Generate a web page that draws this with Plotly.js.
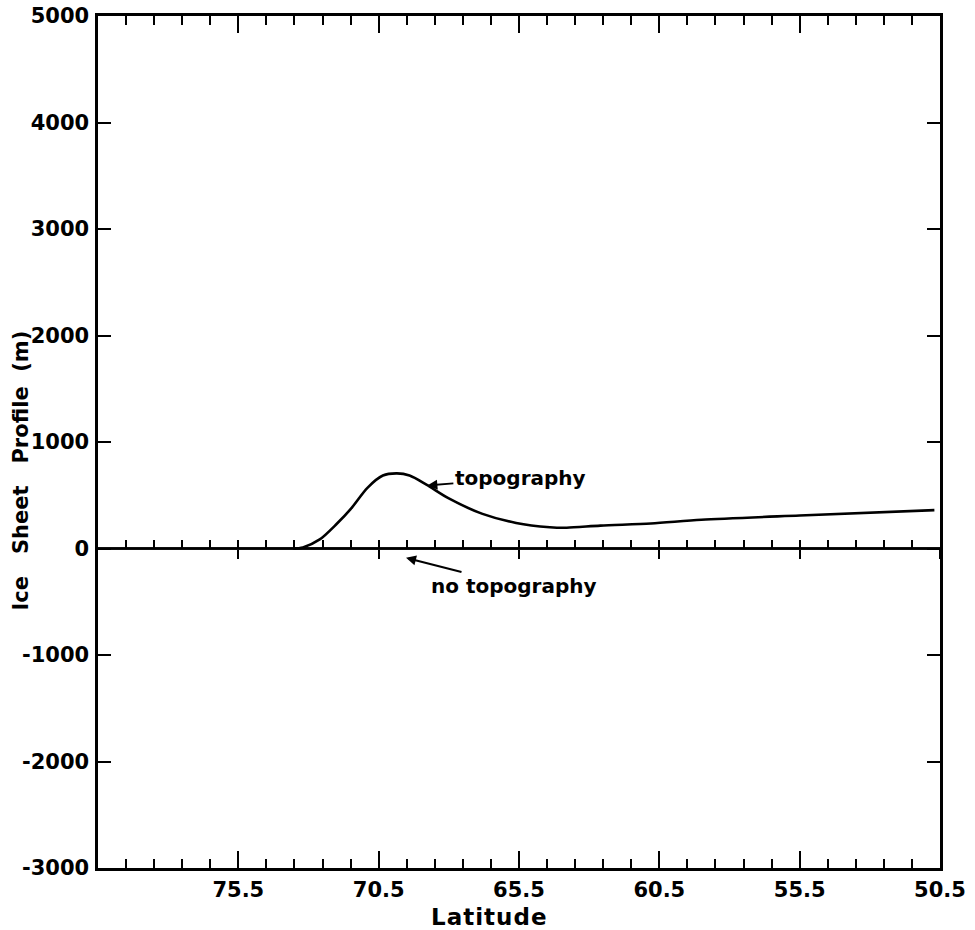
<!DOCTYPE html>
<html>
<head>
<meta charset="utf-8">
<script src="https://cdn.plot.ly/plotly-3.0.1.min.js"></script>
<style>
html,body{margin:0;padding:0;background:#fff;}
g.annotation[data-index="1"] text{letter-spacing:1px;}
</style>
</head>
<body>
<div id="chart" style="width:975px;height:930px;"></div>
<script>
// Data
const topoLat = [73.55, 73.2, 72.6, 72.0, 71.5, 70.9, 70.35, 69.85, 69.4, 68.8, 68.0, 66.8, 65.6, 64.4, 63.8, 62.6, 60.8, 59.0, 55.5, 50.7];
const topoElev = [0, 10, 85, 230, 370, 570, 685, 705, 685, 600, 470, 325, 240, 200, 195, 215, 235, 270, 310, 360];
const flatLat = [80.5, 50.5];
const flatElev = [0, 0];
const xTickVals = [75.5, 70.5, 65.5, 60.5, 55.5, 50.5];
const xTickText = ['75.5', '70.5', '65.5', '60.5', '55.5', '50.5'];
const yTickVals = [-3000, -2000, -1000, 0, 1000, 2000, 3000, 4000, 5000];
const yTickText = ['-3000', '-2000', '-1000', '0', '1000', '2000', '3000', '4000', '5000'];
const xRange = [80.5, 50.5];
const yRange = [-3000, 5000];

const FONT = 'DejaVu Sans, sans-serif';
const tickFnt = {family: FONT, size: 21, color: '#000', weight: 'bold'};
const annFnt = {family: FONT, size: 20, color: '#000', weight: 'bold'};

const traces = [
  {x: topoLat, y: topoElev, type: 'scatter', mode: 'lines', name: 'topography',
   line: {color: '#000', width: 2.6, shape: 'spline', smoothing: 0.8}, xaxis: 'x', yaxis: 'y'},
  {x: flatLat, y: flatElev, type: 'scatter', mode: 'lines', name: 'no topography',
   line: {color: '#000', width: 2.6}, xaxis: 'x2', yaxis: 'y'},
  {x: flatLat, y: flatElev, type: 'scatter', mode: 'lines', xaxis: 'x3', yaxis: 'y', showlegend: false, hoverinfo: 'skip',
   line: {color: '#000', width: 2.6}}
];

const zeroPos = (0 - yRange[0]) / (yRange[1] - yRange[0]);

const layout = {
  width: 975, height: 930,
  margin: {l: 98, r: 35, t: 16, b: 62},
  paper_bgcolor: '#fff', plot_bgcolor: '#fff',
  showlegend: false,
  font: tickFnt,
  xaxis: {
    range: xRange, showgrid: false, zeroline: false,
    showline: true, linecolor: '#000', linewidth: 2.6, mirror: 'ticks',
    tickmode: 'array', tickvals: xTickVals, ticktext: xTickText,
    ticks: 'inside', ticklen: 17, tickwidth: 2, tickcolor: '#000',
    minor: {tickmode: 'linear', tick0: 50.5, dtick: 1, ticks: 'inside', ticklen: 9, tickwidth: 2, tickcolor: '#000'},
    tickfont: tickFnt, ticklabelstandoff: 1,
    title: {text: ''}
  },
  xaxis2: {
    range: xRange, overlaying: 'x', anchor: 'free', position: zeroPos, side: 'bottom',
    showgrid: false, zeroline: false, showline: false, showticklabels: false,
    tickmode: 'array', tickvals: xTickVals,
    ticks: 'inside', ticklen: 9, tickwidth: 2, tickcolor: '#000',
    minor: {tickmode: 'linear', tick0: 50.5, dtick: 1, ticks: 'inside', ticklen: 9, tickwidth: 2, tickcolor: '#000'}
  },
  xaxis3: {
    range: xRange, overlaying: 'x', anchor: 'free', position: zeroPos, side: 'bottom',
    showgrid: false, zeroline: false, showline: false, showticklabels: false,
    tickmode: 'array', tickvals: xTickVals,
    ticks: 'outside', ticklen: 9, tickwidth: 2, tickcolor: '#000'
  },
  yaxis: {
    range: yRange, showgrid: false, zeroline: false,
    showline: true, linecolor: '#000', linewidth: 2.6, mirror: 'ticks',
    tickmode: 'array', tickvals: yTickVals, ticktext: yTickText,
    ticks: 'inside', ticklen: 13, tickwidth: 2, tickcolor: '#000',
    tickfont: tickFnt, ticklabelstandoff: 2,
    title: {text: ''}
  },
  annotations: [
    {xref: 'paper', yref: 'paper', x: -0.092, y: 0.466, xanchor: 'center', yanchor: 'middle',
     text: 'Ice   Sheet   Profile  (m)', textangle: -90, showarrow: false,
     font: {family: FONT, size: 21, color: '#000', weight: 'bold'}},
    {xref: 'paper', yref: 'paper', x: 0.465, y: -0.0575, xanchor: 'center', yanchor: 'middle',
     text: 'Latitude', showarrow: false, font: {family: FONT, size: 23, color: '#000', weight: 'bold'}},
    {x: 68.8, y: 590, xref: 'x', yref: 'y', text: 'topography', showarrow: true,
     arrowhead: 2, arrowsize: 1, arrowwidth: 2, arrowcolor: '#000', ax: 94, ay: -8,
     standoff: 1, font: annFnt},
    {x: 69.56, y: -85, xref: 'x', yref: 'y', text: 'no topography', showarrow: true,
     arrowhead: 2, arrowsize: 1, arrowwidth: 2, arrowcolor: '#000', ax: 109, ay: 28,
     standoff: 1, font: annFnt}
  ]
};

Plotly.newPlot('chart', traces, layout, {displayModeBar: false, staticPlot: true});
</script>
</body>
</html>
